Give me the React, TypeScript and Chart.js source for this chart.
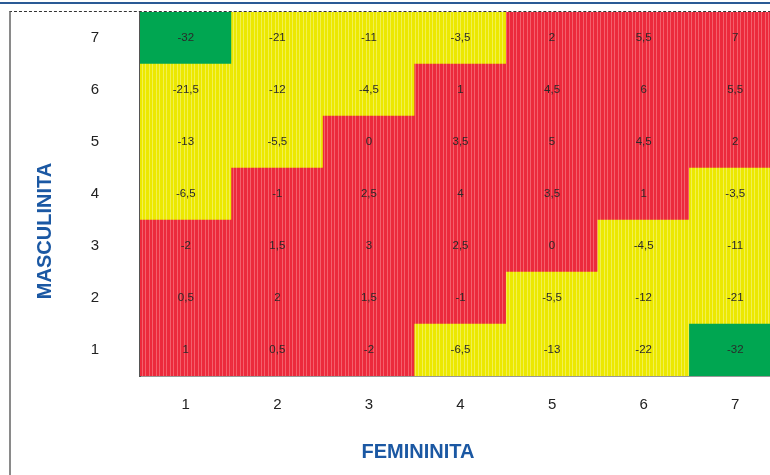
import React, { useEffect, useRef } from "react";
import { Chart, registerables } from "chart.js";

Chart.register(...registerables);

// Femininita levels (x axis)
const femininita = ["1", "2", "3", "4", "5", "6", "7"];
// Masculinita levels (y axis), bottom to top
const masculinita = ["1", "2", "3", "4", "5", "6", "7"];

// Cell values, one row per masculinita level (1 at bottom ... 7 at top), columns femininita 1..7
const rowM1 = [1, 0.5, -2, -6.5, -13, -22, -32];
const rowM2 = [0.5, 2, 1.5, -1, -5.5, -12, -21];
const rowM3 = [-2, 1.5, 3, 2.5, 0, -4.5, -11];
const rowM4 = [-6.5, -1, 2.5, 4, 3.5, 1, -3.5];
const rowM5 = [-13, -5.5, 0, 3.5, 5, 4.5, 2];
const rowM6 = [-21.5, -12, -4.5, 1, 4.5, 6, 5.5];
const rowM7 = [-32, -21, -11, -3.5, 2, 5.5, 7];
const rows = [rowM1, rowM2, rowM3, rowM4, rowM5, rowM6, rowM7];

const xTitle = "FEMININITA";
const yTitle = "MASCULINITA";

const BLUE = "#1b58a3";

function stripePattern(base: string, stripe: string): CanvasPattern | string {
  const c = document.createElement("canvas");
  c.width = 7;
  c.height = 4;
  const g = c.getContext("2d");
  if (!g) return base;
  g.fillStyle = base;
  g.fillRect(0, 0, 7, 4);
  g.fillStyle = stripe;
  g.fillRect(2, 0, 1, 4);
  g.fillRect(5, 0, 1, 4);
  const p = g.createPattern(c, "repeat");
  return p || base;
}

export default function App() {
  const ref = useRef<HTMLCanvasElement | null>(null);

  useEffect(() => {
    if (!ref.current) return;
    const RED = stripePattern("#ec2a3c", "#f4606c");
    const YELLOW = stripePattern("#ece800", "#f2f050");
    const GREEN = "#00a651";
    const cellColor = (v: number) => (v <= -30 ? GREEN : v <= -3 ? YELLOW : RED);
    const fmt = (v: number) => String(v).replace(".", ",");

    const labelPlugin = {
      id: "cellLabels",
      afterDatasetsDraw(chart: any) {
        const ctx = chart.ctx;
        ctx.save();
        ctx.font = "11.5px 'Liberation Sans', Arial, sans-serif";
        ctx.fillStyle = "#2a2a2a";
        ctx.textAlign = "center";
        ctx.textBaseline = "middle";
        chart.data.datasets.forEach((ds: any, di: number) => {
          const meta = chart.getDatasetMeta(di);
          meta.data.forEach((el: any, i: number) => {
            const p = el.getCenterPoint();
            ctx.fillText(fmt(ds.values[i]), p.x, p.y);
          });
        });
        ctx.restore();
      },
      afterDraw(chart: any) {
        const ctx = chart.ctx;
        ctx.save();
        ctx.fillStyle = BLUE;
        ctx.font = "bold 20px 'Liberation Sans', Arial, sans-serif";
        ctx.textAlign = "center";
        ctx.textBaseline = "middle";
        ctx.fillText(xTitle, 418, 452);
        ctx.translate(45, 231);
        ctx.rotate(-Math.PI / 2);
        ctx.fillText(yTitle, 0, 0);
        ctx.restore();
      },
    };

    const datasets = rows.map((r, ri) => ({
      label: "M" + masculinita[ri],
      data: r.map(() => 1),
      values: r,
      backgroundColor: r.map(cellColor),
      borderWidth: 0,
      barPercentage: 1,
      categoryPercentage: 1,
    }));

    const chart = new Chart(ref.current, {
      type: "bar",
      data: { labels: femininita, datasets: datasets as any },
      options: {
        animation: false,
        responsive: false,
        maintainAspectRatio: false,
        layout: { padding: { top: 12, right: 9, left: 0, bottom: 0 } },
        plugins: { legend: { display: false }, tooltip: { enabled: false } },
        scales: {
          x: {
            stacked: true,
            grid: { display: true, drawOnChartArea: false, drawTicks: false, tickLength: 0 },
            border: { display: true, color: "#333", width: 1.5 },
            ticks: {
              color: "#222",
              font: { size: 15, family: "'Liberation Sans', Arial, sans-serif" },
              padding: 20,
            },
            afterFit(scale: any) {
              scale.height = 99;
              scale.paddingLeft = 0;
              scale.paddingRight = 0;
            },
          },
          y: {
            stacked: true,
            min: 0,
            max: 7,
            grid: { display: true, drawOnChartArea: false, drawTicks: false, tickLength: 0 },
            border: { display: true, color: "#555", width: 2 },
            afterBuildTicks(scale: any) {
              scale.ticks = masculinita.map((_, i) => ({ value: i + 0.5 }));
            },
            ticks: {
              color: "#222",
              font: { size: 15, family: "'Liberation Sans', Arial, sans-serif" },
              padding: 41,
              callback: (v: any) => masculinita[Math.round(Number(v) - 0.5)],
            },
            afterFit(scale: any) {
              scale.width = 140;
              scale.paddingTop = 0;
              scale.paddingBottom = 0;
            },
          },
        },
      },
      plugins: [labelPlugin],
    });
    return () => chart.destroy();
  }, []);

  return (
    <div
      style={{
        position: "absolute",
        left: 0,
        top: 0,
        width: 770,
        height: 475,
        overflow: "hidden",
        background: "#fff",
      }}
    >
      <div
        style={{
          position: "absolute",
          left: 0,
          top: 2,
          width: 770,
          height: 0,
          borderTop: "2px solid #2a5a95",
        }}
      />
      <canvas
        ref={ref}
        width={790}
        height={475}
        style={{ position: "absolute", left: 0, top: 0, width: 790, height: 475 }}
      />
      <div
        style={{
          position: "absolute",
          left: 9,
          top: 11,
          width: 800,
          height: 500,
          borderLeft: "2px solid #8a8a8a",
          borderTop: "1px dashed #333",
          pointerEvents: "none",
        }}
      />
    </div>
  );
}
